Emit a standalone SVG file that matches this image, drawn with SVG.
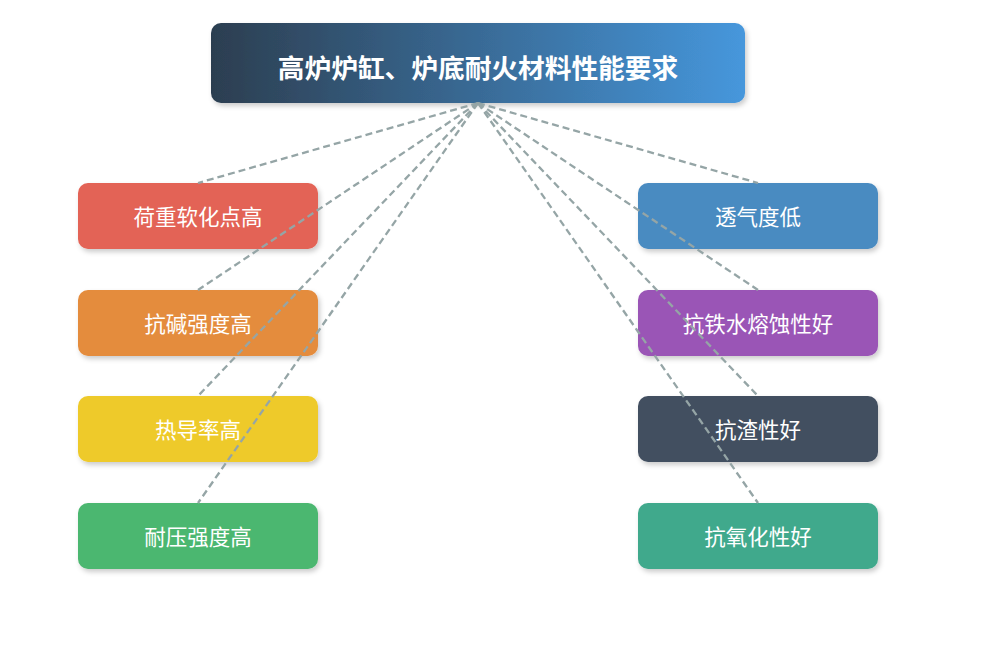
<svg xmlns="http://www.w3.org/2000/svg" width="1000" height="645" viewBox="0 0 1000 645">
<defs>
<linearGradient id="tg" x1="0" y1="0" x2="1" y2="0">
<stop offset="0" stop-color="#2c3e50"/>
<stop offset="1" stop-color="#4697dc"/>
</linearGradient>
<filter id="sh" x="-10%" y="-20%" width="120%" height="150%">
<feDropShadow dx="2" dy="3" stdDeviation="2.5" flood-color="#000" flood-opacity="0.2"/>
</filter>
<style>
.box{filter:url(#sh)}
.lbl{font-family:"Noto Sans CJK SC","Noto Sans",sans-serif;font-size:21.5px;fill:#fff;text-anchor:middle;dominant-baseline:central}
.ttl{font-family:"Noto Sans CJK SC","Noto Sans",sans-serif;font-size:26.7px;font-weight:bold;fill:#fff;text-anchor:middle;dominant-baseline:central}
.cn{stroke:#95a5a6;stroke-width:2.3;stroke-dasharray:7 4;fill:none}
</style>
</defs>
<rect width="1000" height="645" fill="#fff"/>
<g id="title">
<rect class="box" x="211" y="23" width="534" height="80" rx="10" fill="url(#tg)"/>
<text class="ttl" x="478" y="66">高炉炉缸、炉底耐火材料性能要求</text>
</g>
<g id="n1"><rect class="box" x="78" y="183" width="240" height="66" rx="10" fill="#e36356"/><text class="lbl" x="198" y="215">荷重软化点高</text></g>
<g id="n2"><rect class="box" x="78" y="290" width="240" height="66" rx="10" fill="#e48c3e"/><text class="lbl" x="198" y="322">抗碱强度高</text></g>
<g id="n3"><rect class="box" x="78" y="396" width="240" height="66" rx="10" fill="#eeca2c"/><text class="lbl" x="198" y="428">热导率高</text></g>
<g id="n4"><rect class="box" x="78" y="503" width="240" height="66" rx="10" fill="#4cb770"/><text class="lbl" x="198" y="535">耐压强度高</text></g>
<g id="n5"><rect class="box" x="638" y="183" width="240" height="66" rx="10" fill="#4a8bc1"/><text class="lbl" x="758" y="215">透气度低</text></g>
<g id="n6"><rect class="box" x="638" y="290" width="240" height="66" rx="10" fill="#9a54b6"/><text class="lbl" x="758" y="322">抗铁水熔蚀性好</text></g>
<g id="n7"><rect class="box" x="638" y="396" width="240" height="66" rx="10" fill="#435061"/><text class="lbl" x="758" y="428">抗渣性好</text></g>
<g id="n8"><rect class="box" x="638" y="503" width="240" height="66" rx="10" fill="#41a98c"/><text class="lbl" x="758" y="535">抗氧化性好</text></g>
<g id="connectors">
<line class="cn" x1="478" y1="103" x2="198" y2="183"/>
<line class="cn" x1="478" y1="103" x2="198" y2="290"/>
<line class="cn" x1="478" y1="103" x2="198" y2="396"/>
<line class="cn" x1="478" y1="103" x2="198" y2="503"/>
<line class="cn" x1="478" y1="103" x2="758" y2="183"/>
<line class="cn" x1="478" y1="103" x2="758" y2="290"/>
<line class="cn" x1="478" y1="103" x2="758" y2="396"/>
<line class="cn" x1="478" y1="103" x2="758" y2="503"/>
</g>
</svg>
